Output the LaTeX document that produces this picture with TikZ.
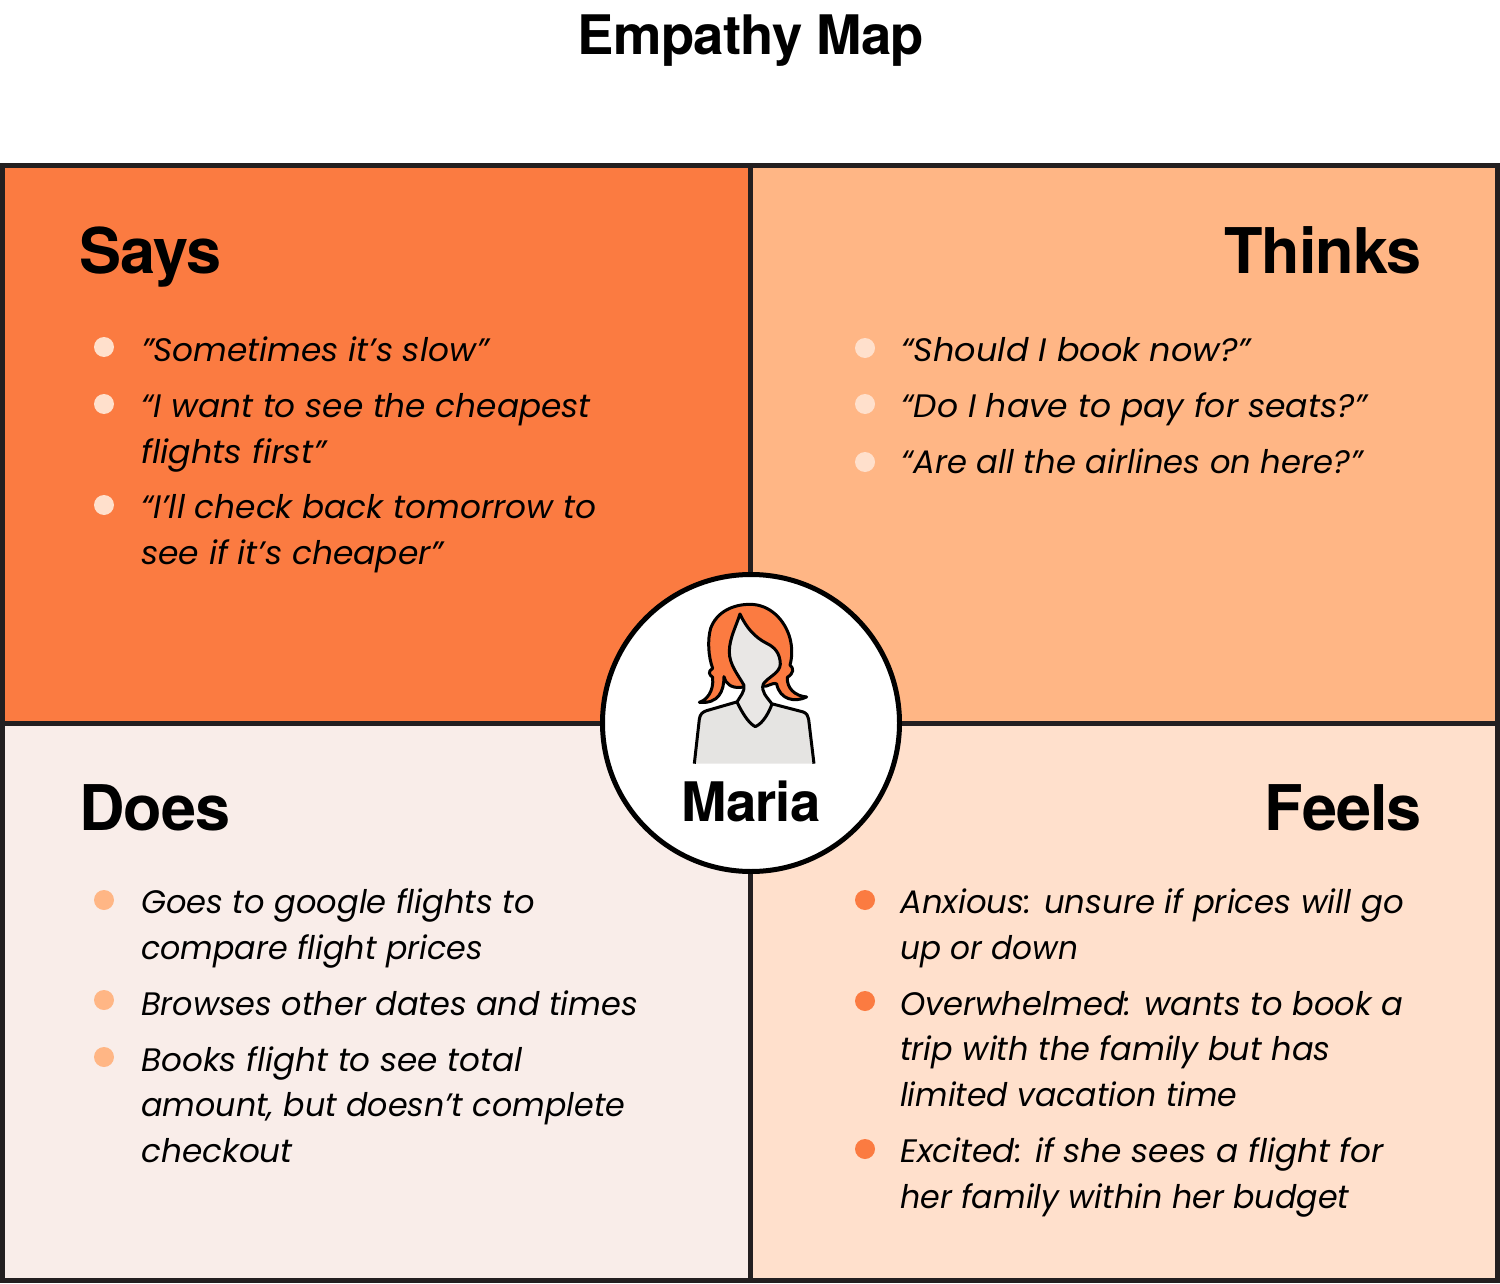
\documentclass[tikz,border=0pt]{standalone}
\usepackage{fontspec}
\setmainfont{Poppins}
\newfontfamily\headfont{TeX Gyre Heros}[UprightFont=* Bold,LetterSpace=-1.5]
\newcommand{\fw}[2]{\scalebox{#1}[1]{#2}}
\definecolor{frame}{HTML}{231F20}
\definecolor{says}{HTML}{FB7B41}
\definecolor{thinks}{HTML}{FFB685}
\definecolor{does}{HTML}{F9EDE9}
\definecolor{feels}{HTML}{FFE0CC}
\definecolor{skin}{HTML}{E9E7E5}
\definecolor{shirt}{HTML}{E5E4E2}
\tikzset{
  x=1pt,y=-1pt,
  panel/.style={draw=frame,line width=5pt},
  head/.style={font=\headfont\fontsize{63}{63}\selectfont,text=black,inner sep=0pt},
  titletext/.style={font=\headfont\fontsize{54.5}{54.5}\selectfont,text=black,inner sep=0pt,anchor=base},
  item/.style={font=\itshape\fontsize{32.5}{32.5}\selectfont,text=black,inner sep=0pt,anchor=base west,yshift=0.8pt},
  dot/.style={circle,minimum size=20pt,inner sep=0pt,draw=none,fill=#1},
  outline/.style={draw=black,line width=3pt,line join=round},
}
\begin{document}
\begin{tikzpicture}
\useasboundingbox (0,0) rectangle (1500,1284);
\fill[white] (0,0) rectangle (1500,1284);
\node[titletext] (title) at (751,55) {Empathy Map};
% panels
\path[panel,fill=says] (2.5,165.5) rectangle (750,723);
\path[panel,fill=thinks] (750,165.5) rectangle (1497.5,723);
\path[panel,fill=does] (2.5,723) rectangle (750,1280.5);
\path[panel,fill=feels] (750,723) rectangle (1497.5,1280.5);
% headings
\node[head,anchor=base west] (says) at (79,274) {Says};
\node[head,anchor=base east] (thinks) at (1422,274) {Thinks};
\node[head,anchor=base west] (does) at (79,830) {Does};
\node[head,anchor=base east] (feels) at (1422,830) {Feels};
% Says
\node[dot=feels] (s1) at (104,347) {};
\node[dot=feels] (s2) at (104,404) {};
\node[dot=feels] (s3) at (104,505) {};
\node[item] (sa) at (141,362) {\fw{1.009}{"Sometimes it’s slow”}};
\node[item] (sb) at (141,418) {\fw{1.007}{“I want to see the cheapest}};
\node[item] (sc) at (141,464) {\fw{1.027}{flights first”}};
\node[item] (sd) at (141,519) {\fw{1.009}{“I’ll check back tomorrow to}};
\node[item] (se) at (141,565) {\fw{1.013}{see if it’s cheaper”}};
% Thinks
\node[dot=feels] (t1) at (865,348) {};
\node[dot=feels] (t2) at (865,404) {};
\node[dot=feels] (t3) at (865,462) {};
\node[item] (ta) at (901,362) {\fw{1.032}{“Should I book now?”}};
\node[item] (tb) at (901,418) {\fw{1.015}{“Do I have to pay for seats?”}};
\node[item] (tc) at (901,474) {\fw{0.99}{“Are all the airlines on here?”}};
% Does
\node[dot=thinks] (d1) at (104,900) {};
\node[dot=thinks] (d2) at (104,1000) {};
\node[dot=thinks] (d3) at (104,1057) {};
\node[item] (da) at (141,914) {\fw{0.987}{Goes to google flights to}};
\node[item] (db) at (141,960) {\fw{0.977}{compare flight prices}};
\node[item] (dc) at (141,1016) {\fw{0.982}{Browses other dates and times}};
\node[item] (dd) at (141,1072) {\fw{1.005}{Books flight to see total}};
\node[item] (de) at (141,1117) {\fw{0.977}{amount, but doesn’t complete}};
\node[item] (df) at (141,1163) {\fw{1.007}{checkout}};
% Feels
\node[dot=says] (f1) at (865,900) {};
\node[dot=says] (f2) at (865,1001) {};
\node[dot=says] (f3) at (865,1149) {};
\node[item] (fa) at (900,914) {\fw{0.995}{Anxious: unsure if prices will go}};
\node[item] (fb) at (900,960) {\fw{0.96}{up or down}};
\node[item] (fc) at (900,1016) {\fw{0.988}{Overwhelmed: wants to book a}};
\node[item] (fd) at (900,1061) {\fw{0.984}{trip with the family but has}};
\node[item] (fe) at (900,1107) {\fw{0.97}{limited vacation time}};
\node[item] (ff) at (900,1163) {\fw{1.008}{Excited: if she sees a flight for}};
\node[item] (fg) at (900,1209) {\fw{0.976}{her family within her budget}};
% centre
\node[circle,draw=black,line width=5pt,fill=white,minimum size=297pt,inner sep=0pt] (hub) at (751,723) {};
\node[font=\headfont\fontsize{54.5}{54.5}\selectfont,inner sep=0pt,anchor=base] (maria) at (751,821) {Maria};
% figure, in coordinates of a 3x crop
\begin{scope}[shift={(590,560)},x=0.3333pt,y=-0.3333pt]
  % shirt
  \fill[shirt] (313,611) -- (328,478) .. controls (330,462) and (338,456) .. (350,452) -- (440,426) -- (548,432) -- (640,456) .. controls (650,460) and (655,468) .. (656,478) -- (672,611) -- cycle;
  \draw[outline] (313,611) -- (328,478) .. controls (330,462) and (338,456) .. (350,452) -- (440,426);
  \draw[outline] (548,432) -- (640,456) .. controls (650,460) and (655,468) .. (656,478) -- (672,611);
  % hair
  \path[outline,fill=says] (328,427) .. controls (350,420) and (372,395) .. (368,352)
    .. controls (358,345) and (352,335) .. (368,325)
    .. controls (355,290) and (352,240) .. (362,205)
    .. controls (380,155) and (430,133) .. (480,133)
    .. controls (540,133) and (585,180) .. (600,235)
    .. controls (608,265) and (606,295) .. (600,315)
    .. controls (612,325) and (612,340) .. (592,352)
    .. controls (590,385) and (615,408) .. (650,411)
    .. controls (615,428) and (570,420) .. (560,372)
    .. controls (555,368) and (545,372) .. (530,378)
    -- (450,382)
    .. controls (425,385) and (405,370) .. (402,350)
    .. controls (402,395) and (385,432) .. (328,427) -- cycle;
  % face and neck
  \path[outline,fill=skin] (450,162)
    .. controls (440,195) and (418,235) .. (418,275)
    .. controls (418,315) and (445,345) .. (462,376)
    .. controls (465,395) and (450,410) .. (441,426)
    .. controls (455,455) and (475,490) .. (496,500)
    .. controls (520,490) and (538,455) .. (546,432)
    .. controls (530,410) and (512,395) .. (520,372)
    .. controls (535,350) and (570,340) .. (571,312)
    .. controls (570,280) and (555,262) .. (530,250)
    .. controls (495,232) and (470,205) .. (450,162) -- cycle;
\end{scope}
\end{tikzpicture}
\end{document}
